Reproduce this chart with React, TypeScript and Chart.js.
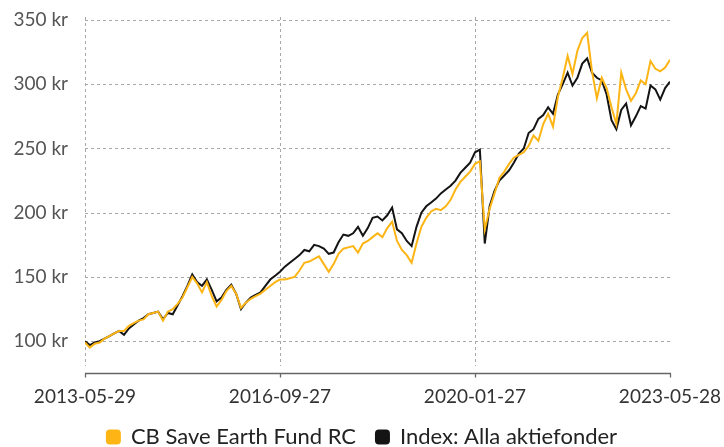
import React, { useEffect, useRef } from "react";
import { Chart, registerables } from "chart.js";

Chart.register(...registerables);

const seriesNames = ["CB Save Earth Fund RC", "Index: Alla aktiefonder"];
const seriesColors = ["#FDB515", "#141414"];

// monthly observations, 2013-05 .. 2023-05 (121 points)
const fundValues = [
  99, 95, 98, 99, 102, 104, 106, 108, 108, 112,
  114, 116, 117, 121, 122, 123, 116, 123, 125, 129,
  134, 142, 150, 145, 138, 146, 135, 127, 132, 139,
  143, 137, 126, 130, 133, 135, 137, 140, 143, 146,
  148, 148, 149, 150, 155, 161, 162, 164, 166, 160,
  154, 160, 168, 172, 173, 174, 169, 176, 178, 181,
  184, 181, 188, 193, 178, 171, 167, 161, 176, 189,
  196, 201, 203, 202, 205, 210, 218, 224, 228, 232,
  238, 240, 187, 203, 215, 227, 232, 238, 243, 245,
  247, 252, 260, 256, 269, 277, 267, 290, 305, 322,
  308, 326, 336, 340, 310, 289, 305, 297, 282, 269,
  309, 296, 287, 293, 303, 300, 318, 312, 310, 313,
  319,
];

const indexValues = [
  100, 97, 99, 100, 102, 104, 106, 108, 105, 110,
  113, 116, 118, 121, 122, 123, 117, 122, 121, 128,
  135, 143, 152, 146, 143, 148, 140, 131, 134, 140,
  144, 137, 125, 130, 134, 136, 138, 143, 148, 151,
  154, 158, 161, 164, 167, 171, 170, 175, 174, 172,
  168, 169, 177, 183, 182, 184, 189, 182, 188, 196,
  197, 194, 198, 204, 187, 184, 178, 174, 189, 200,
  205, 208, 211, 215, 218, 221, 225, 231, 235, 239,
  247, 249, 176, 205, 217, 225, 229, 233, 239, 246,
  250, 262, 265, 273, 276, 282, 277, 292, 300, 309,
  299, 305, 316, 320, 309, 305, 303, 292, 272, 265,
  280, 285, 268, 275, 283, 281, 299, 296, 288, 297,
  302,
];

const xTickLabels = ["2013-05-29", "2016-09-27", "2020-01-27", "2023-05-28"];
const xTickMonths = [0, 40, 80, 120];
const yTickValues = [100, 150, 200, 250, 300, 350];

const FONT = "Lato, 'Open Sans', sans-serif";

const gridPlugin = {
  id: "dashedGrid",
  beforeDatasetsDraw(chart: any) {
    const { ctx, chartArea } = chart;
    const xs = chart.scales.x;
    const ys = chart.scales.y;
    ctx.save();
    ctx.strokeStyle = "#a8a8a8";
    ctx.lineWidth = 1;
    ctx.setLineDash([3, 3]);
    ctx.beginPath();
    yTickValues.forEach((v) => {
      const py = Math.round(ys.getPixelForValue(v)) + 0.5;
      ctx.moveTo(chartArea.left, py);
      ctx.lineTo(chartArea.right, py);
    });
    xTickMonths.slice(0, -1).forEach((m) => {
      const px = Math.round(xs.getPixelForValue(m)) + 0.5;
      ctx.moveTo(px, chartArea.top);
      ctx.lineTo(px, chartArea.bottom);
    });
    ctx.stroke();
    ctx.restore();
  },
  afterDraw(chart: any) {
    const { ctx, chartArea } = chart;
    const xs = chart.scales.x;
    const y = chartArea.bottom + 7.5;
    ctx.save();
    ctx.strokeStyle = "#666";
    ctx.lineWidth = 1.3;
    ctx.beginPath();
    ctx.moveTo(chartArea.left, y);
    ctx.lineTo(chartArea.right + 1, y);
    xTickMonths.forEach((m) => {
      const px = Math.round(xs.getPixelForValue(m)) + 0.5;
      ctx.moveTo(px, y);
      ctx.lineTo(px, y + 4);
    });
    ctx.stroke();
    ctx.restore();
  },
};

export default function App() {
  const ref = useRef<HTMLCanvasElement | null>(null);

  useEffect(() => {
    document.body.style.margin = "0";
    const months = fundValues.map((_, i) => i);
    const chart = new Chart(ref.current!, {
      type: "line",
      data: {
        datasets: [
          {
            label: seriesNames[0],
            data: months.map((m) => ({ x: m, y: fundValues[m] })),
            borderColor: seriesColors[0],
            backgroundColor: seriesColors[0],
            borderWidth: 2,
            pointRadius: 0,
            tension: 0,
          },
          {
            label: seriesNames[1],
            data: months.map((m) => ({ x: m, y: indexValues[m] })),
            borderColor: seriesColors[1],
            backgroundColor: seriesColors[1],
            borderWidth: 2,
            pointRadius: 0,
            tension: 0,
          },
        ],
      },
      options: {
        animation: false,
        responsive: false,
        maintainAspectRatio: false,
        layout: { padding: { left: 0, right: 0, top: 17, bottom: -11 } },
        plugins: {
          tooltip: { enabled: false },
          legend: {
            position: "bottom",
            labels: {
              boxWidth: 13,
              boxHeight: 13,
              useBorderRadius: true,
              borderRadius: 3,
              padding: 20,
              color: "#222",
              font: { family: FONT, size: 22 },
            },
          },
        },
        scales: {
          x: {
            type: "linear",
            min: 0,
            max: 120,
            afterBuildTicks: (scale: any) => {
              scale.ticks = xTickMonths.map((v) => ({ value: v }));
            },
            afterFit: (scale: any) => {
              scale.height = 40;
              scale.paddingLeft = 0;
              scale.paddingRight = 0;
            },
            ticks: {
              autoSkip: false,
              maxRotation: 0,
              padding: 19,
              color: "#333",
              font: { family: FONT, size: 19 },
              callback: (v: any) => {
                const k = xTickMonths.indexOf(Number(v));
                return k >= 0 ? xTickLabels[k] : "";
              },
            },
            grid: { display: false, drawTicks: false },
            border: { display: false },
          },
          y: {
            type: "linear",
            min: 80.7,
            max: 352.3,
            afterBuildTicks: (scale: any) => {
              scale.ticks = yTickValues.map((v) => ({ value: v }));
            },
            afterFit: (scale: any) => {
              scale.width = 85;
              scale.paddingTop = 0;
              scale.paddingBottom = 0;
            },
            ticks: {
              padding: 17,
              color: "#555",
              font: { family: FONT, size: 19 },
              callback: (v: any) => `${v} kr`,
            },
            grid: { display: false, drawTicks: false },
            border: { display: false },
          },
          yRight: {
            type: "linear",
            position: "right",
            display: true,
            min: 80.7,
            max: 352.3,
            afterFit: (scale: any) => {
              scale.width = 54;
              scale.paddingTop = 0;
              scale.paddingBottom = 0;
            },
            ticks: { display: false },
            grid: { display: false, drawTicks: false },
            border: { display: false },
          },
        },
      },
      plugins: [gridPlugin],
    } as any);
    return () => chart.destroy();
  }, []);

  return (
    <div style={{ width: 724, height: 447 }}>
      <canvas ref={ref} width={724} height={447} />
    </div>
  );
}
